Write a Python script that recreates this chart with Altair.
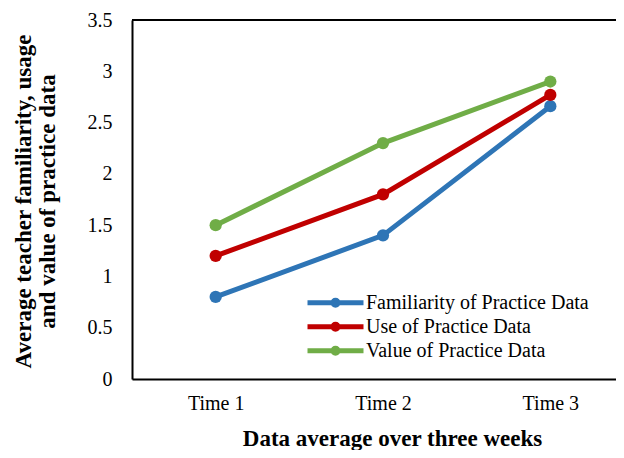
import altair as alt
import pandas as pd

times = ["Time 1", "Time 2", "Time 3"]
series_names = ["Familiarity of Practice Data", "Use of Practice Data", "Value of Practice Data"]
familiarity = [0.8, 1.4, 2.66]
use = [1.2, 1.8, 2.77]
value = [1.5, 2.3, 2.9]
colors = ["#2E75B6", "#C00000", "#70AD47"]
y_ticks = [0, 0.5, 1, 1.5, 2, 2.5, 3, 3.5]

rows = []
for name, vals in zip(series_names, [familiarity, use, value]):
    for t, v in zip(times, vals):
        rows.append({"time": t, "series": name, "value": v})
df = pd.DataFrame(rows)

W, H = 484, 359
XR = 502
serif = "'Liberation Serif', 'Times New Roman', serif"

legend_path = "M-1,0L1,0M0.09,0A0.09,0.09,0,1,1,-0.09,0A0.09,0.09,0,1,1,0.09,0"

base = alt.Chart(df)

lines = base.mark_line(
    strokeWidth=5,
    point=alt.OverlayMarkDef(filled=True, size=150, opacity=1),
).encode(
    x=alt.X("time:O", sort=times,
            scale=alt.Scale(type="point", range=[0, XR], padding=0.5, domain=times),
            axis=alt.Axis(title="Data average over three weeks", labelAngle=0,
                          ticks=False, tickSize=0, labelPadding=14, labelFontSize=20,
                          labelFont=serif, labelColor="#000", domainColor="#000",
                          domainWidth=2, titleFont=serif, titleFontSize=23,
                          titleFontWeight="bold", titleColor="#000",
                          titleX=260, titleY=66, titleBaseline="alphabetic", grid=False)),
    y=alt.Y("value:Q", scale=alt.Scale(domain=[0, 3.5], nice=False),
            axis=alt.Axis(title=["Average teacher familiarity, usage", "and value of practice data"],
                          values=y_ticks, format="~g", ticks=False, tickSize=0, labelPadding=20,
                          labelFontSize=20, labelFont=serif, labelColor="#000",
                          domainColor="#000", domainWidth=2, grid=False,
                          titleFont=serif, titleFontSize=23, titleFontWeight="bold",
                          titleColor="#000", titleLineHeight=24,
                          titleX=-102, titleY=181, titleAngle=-90, titleAlign="center",
                          titleBaseline="alphabetic")),
    color=alt.Color("series:N", sort=series_names,
                    scale=alt.Scale(domain=series_names, range=colors),
                    legend=alt.Legend(title=None, orient="none", legendX=173, legendY=271,
                                      symbolType=legend_path, symbolSize=3136,
                                      symbolStrokeWidth=5, symbolFillColor="transparent",
                                      clipHeight=23.5, rowPadding=0, padding=0,
                                      labelFont=serif, labelFontSize=20, labelColor="#000",
                                      labelOffset=0, labelLimit=400)),
)

top_line = alt.Chart(pd.DataFrame({"y": [3.5]})).mark_rule(color="#000", strokeWidth=2).encode(
    y=alt.Y("y:Q"), x=alt.value(0), x2=alt.value(XR)
)

chart = alt.layer(top_line, lines).properties(
    width=W, height=H,
    autosize=alt.AutoSizeParams(type="none"),
    padding={"left": 124, "top": 12, "right": 0, "bottom": 71},
).configure_view(stroke=None).configure(background="white", font=serif)

chart.save("out.html", embed_options={"renderer": "svg", "actions": False})
